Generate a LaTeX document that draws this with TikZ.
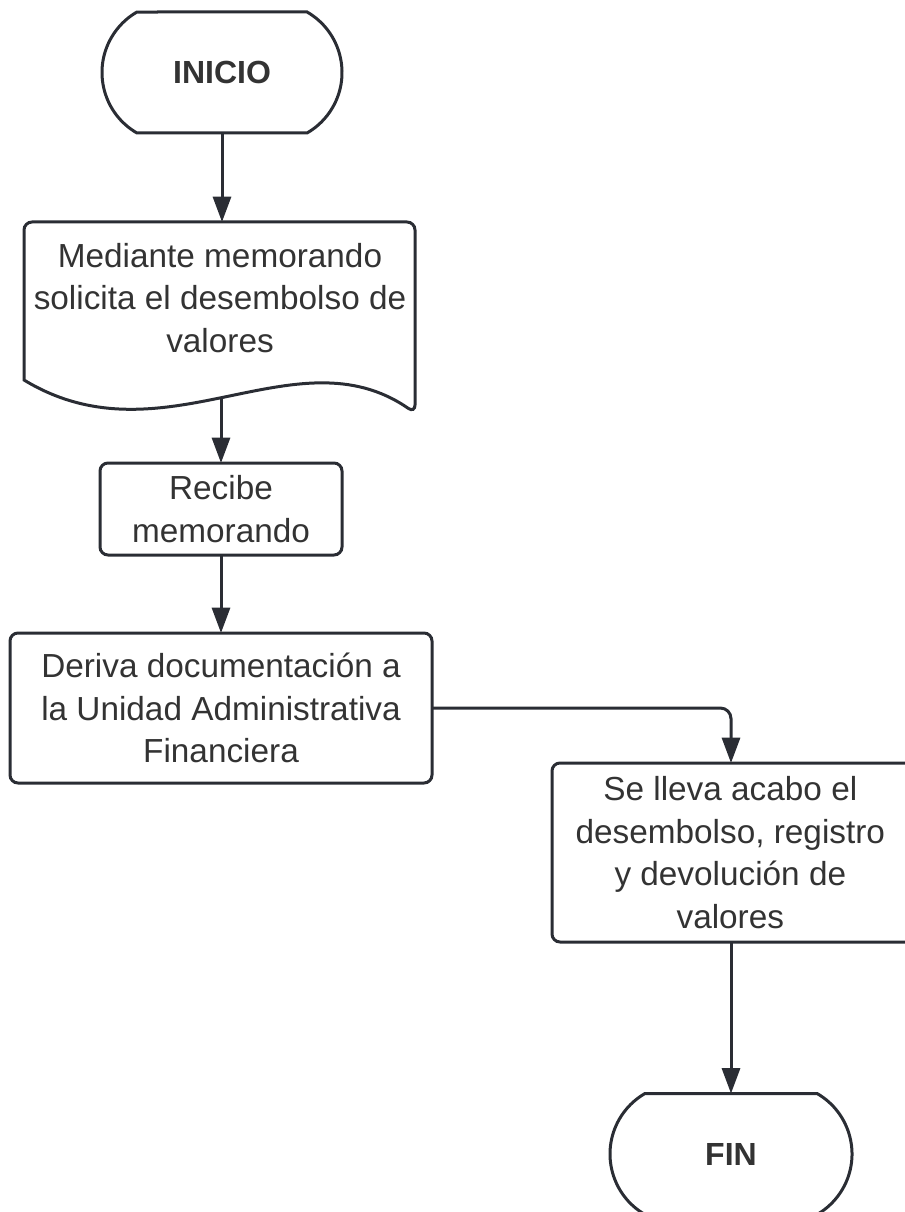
\documentclass[tikz,border=0pt]{standalone}
\usepackage{fontspec}
\setmainfont{Liberation Sans}
\usetikzlibrary{arrows.meta,shapes.misc}
\definecolor{linegray}{RGB}{42,45,52}
\definecolor{textgray}{RGB}{51,51,51}
\tikzset{
  box/.style={draw=linegray, line width=2.25pt, rounded corners=6pt, align=center,
    text=textgray, inner sep=0pt, outer sep=0pt, font=\fontsize{25}{32}\selectfont},
  terminal/.style={box, sharp corners, rounded rectangle, rounded rectangle arc length=120,
    font=\fontsize{24}{30}\selectfont\bfseries, minimum width=180pt, minimum height=90.75pt},
  flow/.style={draw=linegray, line width=2.25pt, -{Triangle[length=19pt,width=13.5pt]}}
}

\begin{document}
\begin{tikzpicture}[x=0.75pt, y=-0.75pt]
  \useasboundingbox (0,0) rectangle (904,1212);
  % start and memo (document shape)
  \node[terminal] (inicio) at (222,72.5) {INICIO};
  \node[box, draw=none, minimum width=293.25pt, minimum height=114pt] (memo) at (220,298)
    {Mediante memorando\\solicita el desembolso de\\valores};
  \draw[linegray, line width=2.25pt] (24,380) [rounded corners=6pt] -- (24,222) -- (415,222)
    -- (415,413) [sharp corners] .. controls (295,330) and (164,465) .. (24,380) -- cycle;
  \coordinate (memoout) at (221,397);
  % process boxes
  \node[box, minimum width=181.5pt, minimum height=69pt] (recibe) at (221,509)
    {Recibe\\memorando};
  \node[box, minimum width=316.5pt, minimum height=112.5pt] (deriva) at (221,708)
    {Deriva documentación a\\la Unidad Administrativa\\Financiera};
  \node[box, minimum width=273pt, minimum height=134.25pt] (desembolso) at (734,852.5)
    {\hspace*{-5.5pt}Se lleva acabo el\\\hspace*{-5.5pt}desembolso, registro\\\hspace*{-5.5pt}y devolución de\\\hspace*{-5.5pt}valores};
  \node[terminal, minimum width=181.5pt] (fin) at (731,1154) {FIN};
  % connectors
  \draw[flow] (inicio.south) -- (inicio.south |- memo.north);
  \draw[flow] (memoout) -- (memoout |- recibe.north);
  \draw[flow] (recibe.south) -- (deriva.north);
  \draw[flow, rounded corners=8pt] (deriva.east) -| (fin.north |- desembolso.north);
  \draw[flow] (fin.north |- desembolso.south) -- (fin.north);
\end{tikzpicture}
\end{document}
